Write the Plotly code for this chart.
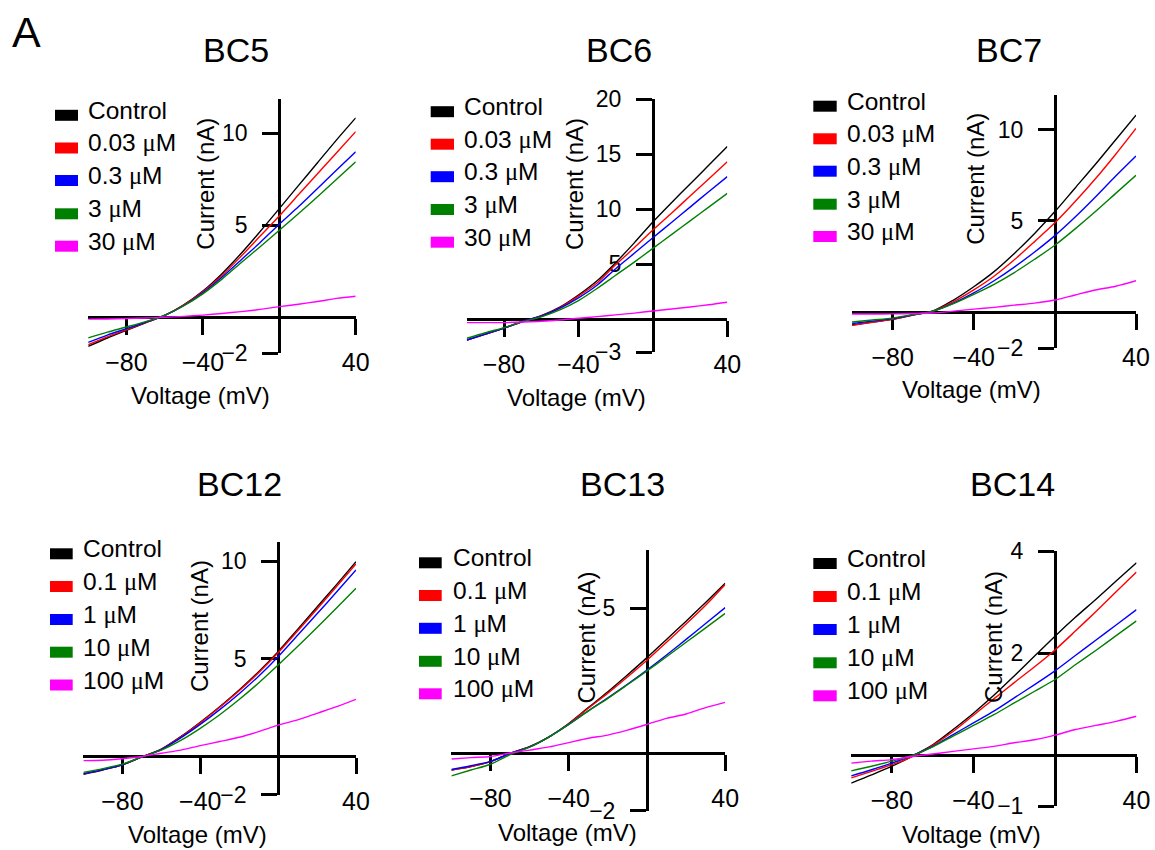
import plotly.graph_objects as go

# ---------------- data ----------------
voltage = [-100, -90, -80, -70, -60, -50, -40, -30, -20, -10, 0, 10, 20, 30, 40]

bc5_labels = ["Control", "0.03 μM", "0.3 μM", "3 μM", "30 μM"]
bc5_control = [-1.62, -1.16, -0.74, -0.33, 0.07, 0.65, 1.40, 2.35, 3.45, 4.65, 5.90, 7.15, 8.40, 9.65, 10.85]
bc5_003 = [-1.53, -1.10, -0.71, -0.32, 0.07, 0.64, 1.36, 2.25, 3.30, 4.40, 5.50, 6.65, 7.80, 8.95, 10.10]
bc5_03 = [-1.40, -1.00, -0.65, -0.30, 0.07, 0.60, 1.30, 2.15, 3.10, 4.05, 5.05, 6.00, 7.00, 8.00, 9.00]
bc5_3 = [-1.15, -0.84, -0.56, -0.27, 0.08, 0.60, 1.25, 2.05, 2.95, 3.82, 4.72, 5.62, 6.55, 7.50, 8.45]
bc5_30 = [-0.13, -0.12, -0.10, -0.07, -0.03, 0.02, 0.09, 0.18, 0.28, 0.40, 0.55, 0.68, 0.83, 1.00, 1.12]

bc6_labels = ["Control", "0.03 μM", "0.3 μM", "3 μM", "30 μM"]
bc6_control = [-1.90, -1.35, -0.80, -0.20, 0.33, 1.10, 2.20, 3.50, 5.15, 6.95, 8.85, 10.60, 12.30, 14.00, 15.70]
bc6_003 = [-1.90, -1.35, -0.80, -0.20, 0.30, 1.05, 2.10, 3.30, 4.95, 6.50, 8.12, 9.65, 11.20, 12.75, 14.33]
bc6_03 = [-1.88, -1.35, -0.80, -0.20, 0.28, 1.00, 1.95, 3.10, 4.60, 6.00, 7.42, 8.80, 10.20, 11.60, 12.97]
bc6_3 = [-1.72, -1.22, -0.75, -0.22, 0.22, 0.85, 1.70, 2.80, 4.00, 5.20, 6.45, 7.70, 8.95, 10.20, 11.45]
bc6_30 = [-0.30, -0.30, -0.30, -0.25, -0.18, -0.06, 0.10, 0.24, 0.40, 0.56, 0.76, 0.94, 1.12, 1.32, 1.55]

bc7_labels = ["Control", "0.03 μM", "0.3 μM", "3 μM", "30 μM"]
bc7_control = [-0.73, -0.57, -0.42, -0.18, 0.05, 0.64, 1.37, 2.20, 3.20, 4.30, 5.50, 6.80, 8.10, 9.45, 10.80]
bc7_003 = [-0.75, -0.58, -0.42, -0.18, 0.04, 0.55, 1.20, 1.95, 2.85, 3.85, 4.88, 6.05, 7.30, 8.65, 10.07]
bc7_03 = [-0.65, -0.52, -0.38, -0.17, 0.03, 0.47, 1.03, 1.70, 2.45, 3.28, 4.18, 5.20, 6.30, 7.45, 8.55]
bc7_3 = [-0.57, -0.46, -0.35, -0.16, 0.03, 0.44, 0.95, 1.50, 2.15, 2.88, 3.65, 4.55, 5.50, 6.50, 7.50]
bc7_30 = [-0.13, -0.13, -0.12, -0.10, -0.07, 0.03, 0.14, 0.24, 0.36, 0.47, 0.64, 0.92, 1.19, 1.40, 1.70]

bc12_labels = ["Control", "0.1 μM", "1 μM", "10 μM", "100 μM"]
bc12_control = [-0.94, -0.72, -0.46, -0.05, 0.35, 0.99, 1.73, 2.53, 3.39, 4.33, 5.36, 6.50, 7.65, 8.80, 9.98]
bc12_01 = [-0.92, -0.70, -0.45, -0.05, 0.34, 0.97, 1.70, 2.50, 3.35, 4.28, 5.30, 6.42, 7.55, 8.70, 9.86]
bc12_1 = [-0.92, -0.70, -0.45, -0.05, 0.33, 0.93, 1.62, 2.38, 3.20, 4.10, 5.10, 6.20, 7.30, 8.42, 9.55]
bc12_10 = [-0.85, -0.65, -0.42, -0.05, 0.30, 0.80, 1.42, 2.12, 2.90, 3.75, 4.67, 5.62, 6.60, 7.60, 8.61]
bc12_100 = [-0.24, -0.22, -0.14, -0.03, 0.14, 0.30, 0.53, 0.74, 0.96, 1.25, 1.58, 1.85, 2.19, 2.53, 2.91]

bc13_labels = ["Control", "0.1 μM", "1 μM", "10 μM", "100 μM"]
bc13_control = [-0.60, -0.48, -0.31, -0.02, 0.21, 0.55, 1.01, 1.56, 2.11, 2.69, 3.29, 3.92, 4.55, 5.20, 5.86]
bc13_01 = [-0.60, -0.48, -0.31, -0.02, 0.21, 0.55, 1.00, 1.54, 2.06, 2.62, 3.20, 3.82, 4.45, 5.10, 5.82]
bc13_1 = [-0.58, -0.45, -0.30, -0.03, 0.20, 0.55, 0.98, 1.45, 1.90, 2.37, 2.86, 3.38, 3.92, 4.47, 5.02]
bc13_10 = [-0.80, -0.60, -0.40, -0.07, 0.19, 0.55, 0.98, 1.44, 1.88, 2.35, 2.83, 3.32, 3.82, 4.32, 4.82]
bc13_100 = [-0.22, -0.17, -0.13, -0.01, 0.09, 0.20, 0.35, 0.50, 0.61, 0.78, 0.98, 1.19, 1.34, 1.56, 1.74]

bc14_labels = ["Control", "0.1 μM", "1 μM", "10 μM", "100 μM"]
bc14_control = [-0.55, -0.39, -0.22, -0.02, 0.20, 0.50, 0.82, 1.17, 1.55, 1.94, 2.33, 2.70, 3.05, 3.41, 3.77]
bc14_01 = [-0.45, -0.32, -0.19, -0.03, 0.19, 0.46, 0.78, 1.10, 1.42, 1.73, 2.06, 2.43, 2.81, 3.20, 3.59]
bc14_1 = [-0.41, -0.29, -0.16, -0.01, 0.17, 0.40, 0.63, 0.86, 1.12, 1.38, 1.65, 1.95, 2.25, 2.55, 2.85]
bc14_10 = [-0.31, -0.22, -0.12, -0.01, 0.16, 0.37, 0.58, 0.79, 1.02, 1.25, 1.48, 1.77, 2.05, 2.34, 2.63]
bc14_100 = [-0.16, -0.12, -0.09, -0.03, 0.02, 0.07, 0.12, 0.17, 0.24, 0.30, 0.39, 0.50, 0.58, 0.66, 0.76]

titles = ["BC5", "BC6", "BC7", "BC12", "BC13", "BC14"]
x_ticks = [-80, -40, 40]
y_ticks = [[-2, 5, 10], [-3, 5, 10, 15, 20], [-2, 5, 10], [-2, 5, 10], [-2, 5], [-1, 2, 4]]
y_ranges = [[-2, 11.9], [-3, 20], [-2, 11.9], [-2, 11], [-2, 7], [-1, 4]]
x_range = [-100, 40]

series = [
    (bc5_labels, [bc5_control, bc5_003, bc5_03, bc5_3, bc5_30]),
    (bc6_labels, [bc6_control, bc6_003, bc6_03, bc6_3, bc6_30]),
    (bc7_labels, [bc7_control, bc7_003, bc7_03, bc7_3, bc7_30]),
    (bc12_labels, [bc12_control, bc12_01, bc12_1, bc12_10, bc12_100]),
    (bc13_labels, [bc13_control, bc13_01, bc13_1, bc13_10, bc13_100]),
    (bc14_labels, [bc14_control, bc14_01, bc14_1, bc14_10, bc14_100]),
]

# ---------------- layout (pixel geometry) ----------------
W, H = 1155, 850
colors = ["#000000", "#FF0000", "#0000FF", "#008000", "#FF00FF"]
FONT = "Liberation Sans, Arial, sans-serif"

# plot box in pixels: (left, right, top, bottom)
boxes = [
    (88.2, 355.7, 98.6, 353.4),
    (466.8, 727.3, 99.3, 352.3),
    (852.1, 1136.0, 95.1, 348.1),
    (83.4, 356.0, 541.8, 794.9),
    (451.4, 725.2, 550.4, 810.5),
    (851.2, 1136.5, 551.0, 806.0),
]
title_pos = [(236, 50), (619, 50), (1009, 50), (239, 484), (622.7, 484), (1012.7, 484)]
xtitle_pos = [(200.5, 396), (576, 397), (971.7, 390), (197.2, 834), (567, 832), (971.7, 834)]
ytitle_pos = [(205.7, 184), (575, 184), (976, 178.8), (199.3, 625.8), (586, 637.5), (993.3, 636.7)]
legend_geo = [
    ((55, 78), 86, [115.3, 148, 180.5, 213.8, 246.2]),
    ((430.7, 454), 461.7, [111.7, 144.2, 176.7, 209.5, 242.2]),
    ((813.3, 836.7), 845, [106.2, 138.8, 171.2, 204.2, 236.5]),
    ((50, 72.7), 80.7, [553.8, 586.5, 619.5, 652.2, 685]),
    ((419, 441.7), 450.7, [562.8, 595.5, 628.3, 661.3, 693.8]),
    ((813.3, 836.7), 845, [563.5, 596.5, 629.5, 662.8, 695.8]),
]


def px(x):
    return x / W


def py(y):
    return 1 - y / H


def mu(s):
    return s.replace("μ", "<span style=\"font-family:'Liberation Serif', serif\">μ</span>")


fig = go.Figure()
annotations = []
shapes = []
layout = {}

for i in range(6):
    n = "" if i == 0 else str(i + 1)
    left, right, top, bottom = boxes[i]
    ylo, yhi = y_ranges[i]
    labels, ys = series[i]
    for lab, yv, c in zip(labels, ys, colors):
        fig.add_trace(go.Scatter(
            x=voltage, y=yv, mode="lines", name=lab, showlegend=False,
            line=dict(color=c, width=1.4, shape="spline", smoothing=0.8),
            xaxis="x" + n, yaxis="y" + n, hoverinfo="skip",
        ))
    zero_px = bottom - (0 - ylo) / (yhi - ylo) * (bottom - top)
    x0_px = left + (0 - x_range[0]) / (x_range[1] - x_range[0]) * (right - left)
    layout["xaxis" + n] = dict(
        domain=[px(left), px(right)], range=x_range, anchor="free", position=py(zero_px),
        showline=True, linecolor="black", linewidth=3, ticks="outside", ticklen=16,
        tickwidth=3, tickcolor="black", tickvals=x_ticks, showgrid=False, zeroline=False,
        tickfont=dict(family=FONT, size=25, color="black"), ticklabelstandoff=6,
        layer="below traces", fixedrange=True, automargin=False,
    )
    layout["yaxis" + n] = dict(
        domain=[py(bottom), py(top)], range=[ylo, yhi], anchor="free", position=px(x0_px),
        showline=True, linecolor="black", linewidth=3, ticks="outside", ticklen=16,
        tickwidth=3, tickcolor="black", tickvals=y_ticks[i], showgrid=False, zeroline=False,
        tickfont=dict(family=FONT, size=23, color="black"), ticklabelstandoff=10,
        layer="below traces", fixedrange=True, automargin=False,
    )
    tx, ty = title_pos[i]
    annotations.append(dict(x=px(tx), y=py(ty), xref="paper", yref="paper", text=titles[i],
                            showarrow=False, xanchor="center", yanchor="middle",
                            font=dict(family=FONT, size=34, color="black")))
    vx, vy = xtitle_pos[i]
    annotations.append(dict(x=px(vx), y=py(vy), xref="paper", yref="paper", text="Voltage (mV)",
                            showarrow=False, xanchor="center", yanchor="middle",
                            font=dict(family=FONT, size=24, color="black")))
    cx, cy = ytitle_pos[i]
    annotations.append(dict(x=px(cx), y=py(cy), xref="paper", yref="paper", text="Current (nA)",
                            showarrow=False, xanchor="center", yanchor="middle", textangle=-90,
                            font=dict(family=FONT, size=24, color="black")))
    (sx0, sx1), txx, rows = legend_geo[i]
    for lab, c, ry in zip(labels, colors, rows):
        shapes.append(dict(type="rect", xref="paper", yref="paper",
                           x0=px(sx0), x1=px(sx1), y0=py(ry + 5.5), y1=py(ry - 5.5),
                           fillcolor=c, line=dict(width=0)))
        annotations.append(dict(x=px(txx), y=py(ry - 5), xref="paper", yref="paper", text=mu(lab),
                                showarrow=False, xanchor="left", yanchor="middle",
                                font=dict(family=FONT, size=24.5, color="black")))

annotations.append(dict(x=px(26.7), y=py(31.7), xref="paper", yref="paper", text="A",
                        showarrow=False, xanchor="center", yanchor="middle",
                        font=dict(family=FONT, size=43, color="black")))

fig.update_layout(
    width=W, height=H, autosize=False,
    margin=dict(l=0, r=0, t=0, b=0, pad=0, autoexpand=False),
    paper_bgcolor="white", plot_bgcolor="rgba(0,0,0,0)",
    showlegend=False, annotations=annotations, shapes=shapes,
    font=dict(family=FONT, color="black"),
    **layout,
)

fig.write_html(
    "out.html",
    config={"displayModeBar": False, "staticPlot": True, "responsive": False},
    post_script=("document.documentElement.style.margin='0';"
                 "document.body.style.margin='0';document.body.style.padding='0';"
                 "document.documentElement.style.overflow='hidden';"
                 "document.body.style.overflow='hidden';"),
)
